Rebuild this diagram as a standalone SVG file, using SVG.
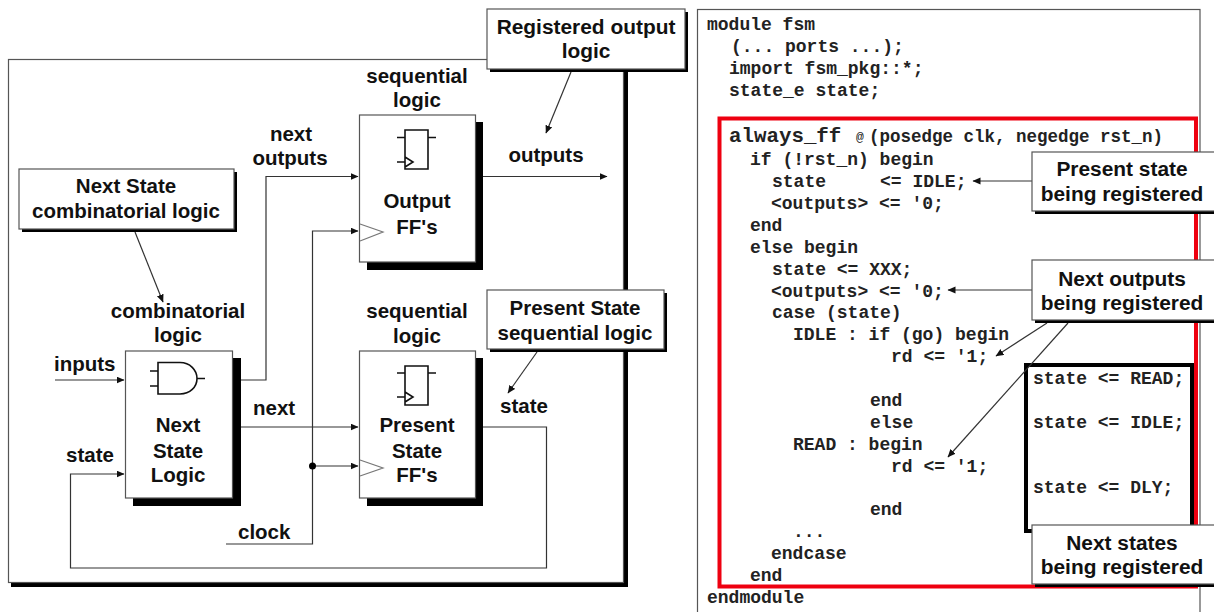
<svg xmlns="http://www.w3.org/2000/svg" width="1214" height="612" viewBox="0 0 1214 612">
<style>
.t{font-family:"Liberation Sans",Arial,sans-serif;font-weight:700;font-size:20.500px;fill:#111;text-anchor:middle}
.l{text-anchor:start}
.r{font-size:20.900px}
.c{font-family:"Liberation Mono","Courier New",monospace;font-weight:700;font-size:18px;fill:#222;white-space:pre}
.box{fill:#fff;stroke:#555;stroke-width:1.2}
.sh{fill:#000}
.a{fill:none;stroke:#333;stroke-width:1.2;marker-end:url(#ah)}
.g{fill:none;stroke:#111;stroke-width:1.6}
.ck{fill:none;stroke:#777;stroke-width:1.2}
</style>
<defs>
<marker id="ah" markerUnits="userSpaceOnUse" markerWidth="9" markerHeight="8" refX="7.5" refY="3.5" orient="auto"><path d="M0 0L8 3.5L0 7Z" fill="#111"/></marker>
</defs>
<rect width="1214" height="612" fill="#fff"/>

<g id="fsm-frame">
<rect class="sh" x="11" y="62" width="617" height="525"/>
<rect class="box" x="8.5" y="59.5" width="615" height="523"/>
</g>

<g id="code-panel">
<rect x="697.5" y="9.5" width="502.500" height="610" fill="#fff" stroke="#555" stroke-width="1.2"/>
<rect x="719.500" y="118.500" width="476.500" height="468" fill="none" stroke="#ee0010" stroke-width="4"/>
<rect x="1026" y="365" width="166" height="166" fill="none" stroke="#000" stroke-width="4"/>
<text class="c" x="707" y="30">module fsm</text>
<text class="c" x="731" y="52">(... ports ...);</text>
<text class="c" x="729" y="74">import fsm_pkg::*;</text>
<text class="c" x="729" y="96">state_e state;</text>
<text class="c" x="729" y="142" style="font-size:20.800px">always_ff</text>
<text class="c" x="856" y="141" style="font-size:13px;font-weight:400">@</text>
<text class="c" x="869" y="142" style="font-size:17.500px">(posedge clk, negedge rst_n)</text>
<text class="c" x="750" y="165">if (!rst_n) begin</text>
<text class="c" x="772" y="187">state     &lt;= IDLE;</text>
<text class="c" x="771" y="209">&lt;outputs&gt; &lt;= '0;</text>
<text class="c" x="750" y="231">end</text>
<text class="c" x="750" y="253">else begin</text>
<text class="c" x="772" y="275">state &lt;= XXX;</text>
<text class="c" x="771" y="297">&lt;outputs&gt; &lt;= '0;</text>
<text class="c" x="772" y="318">case (state)</text>
<text class="c" x="793" y="340">IDLE : if (go) begin</text>
<text class="c" x="891" y="362">rd &lt;= '1;</text>
<text class="c" x="870" y="406">end</text>
<text class="c" x="870" y="428">else</text>
<text class="c" x="793" y="450">READ : begin</text>
<text class="c" x="891" y="472">rd &lt;= '1;</text>
<text class="c" x="870" y="515">end</text>
<text class="c" x="793" y="537">...</text>
<text class="c" x="771" y="559">endcase</text>
<text class="c" x="750" y="581">end</text>
<text class="c" x="707" y="603">endmodule</text>
<text class="c" x="1033" y="384">state &lt;= READ;</text>
<text class="c" x="1033" y="428">state &lt;= IDLE;</text>
<text class="c" x="1033" y="493">state &lt;= DLY;</text>
</g>

<g id="connectors">
<path class="a" d="M241 380H266V176.500H358"/>
<path class="a" d="M226 544H312.500V231H358"/>
<path class="a" d="M312.500 466H358"/>
<path class="a" d="M241 427H358"/>
<path class="a" d="M55 380H124"/>
<path class="a" d="M483 427H546.500V568H70.500V474H124"/>
<path class="a" d="M483 176.500H607"/>
<circle cx="312.500" cy="466" r="3.500" fill="#000"/>
<path class="a" d="M135 232L163 302"/>
<path class="a" d="M571 72L546 133"/>
<path class="a" d="M537 352L508 393"/>
<path class="a" d="M1032 181H973"/>
<path class="a" d="M1032 290H948"/>
<path class="a" d="M1047 323L996 356"/>
<path class="a" d="M1068 323L948 457"/>
</g>

<g id="next-state-logic">
<rect class="sh" x="133" y="358" width="108" height="148"/>
<rect class="box" x="125.500" y="351" width="107" height="147"/>
<path class="g" d="M158 362.500H180C190 362.500 197 370 197 378.500C197 387 190 394 180 394H158ZM150 371H158M150 386H158M197 378.500H205"/>
<text class="t" x="178" y="432">Next</text>
<text class="t" x="178" y="458">State</text>
<text class="t" x="178" y="482">Logic</text>
</g>

<g id="output-ffs">
<rect class="sh" x="367" y="122" width="116" height="148"/>
<rect class="box" x="359.500" y="115" width="116" height="147"/>
<path class="ck" d="M360 224L383 232L360 241"/>
<path class="g" d="M405 130H428V169H405ZM397 137.500H405M428 137.500H436M397 162H405M405 157L413 162L405 167"/>
<text class="t" x="417" y="208">Output</text>
<text class="t" x="417" y="234">FF's</text>
</g>

<g id="present-state-ffs">
<rect class="sh" x="367" y="358" width="116" height="148"/>
<rect class="box" x="359.500" y="351" width="116" height="147"/>
<path class="ck" d="M360 460L383 468L360 476"/>
<path class="g" d="M405 366H428V405H405ZM397 373H405M428 373H436M397 397H405M405 392L413 397L405 402"/>
<text class="t" x="417" y="432">Present</text>
<text class="t" x="417" y="458">State</text>
<text class="t" x="417" y="482">FF's</text>
</g>

<g id="labels">
<text class="t" x="291" y="141">next</text>
<text class="t" x="290" y="165">outputs</text>
<text class="t" x="178" y="318">combinatorial</text>
<text class="t" x="178" y="342">logic</text>
<text class="t l" x="54" y="371">inputs</text>
<text class="t l" x="66" y="462">state</text>
<text class="t l" x="253" y="415">next</text>
<text class="t l" x="238" y="539">clock</text>
<text class="t" x="417" y="83">sequential</text>
<text class="t" x="417" y="107">logic</text>
<text class="t" x="417" y="318">sequential</text>
<text class="t" x="417" y="343">logic</text>
<text class="t" x="546" y="162">outputs</text>
<text class="t" x="524" y="413">state</text>
</g>

<g id="callout-next-state">
<rect class="sh" x="22" y="172" width="215" height="60"/>
<rect class="box" x="19" y="169" width="215" height="60"/>
<text class="t" x="126" y="193">Next State</text>
<text class="t" x="126" y="218">combinatorial logic</text>
</g>
<g id="callout-registered-output">
<rect class="sh" x="490" y="12" width="198" height="60"/>
<rect class="box" x="487" y="9" width="198" height="60"/>
<text class="t r" x="586" y="34">Registered output</text>
<text class="t r" x="586" y="58">logic</text>
</g>
<g id="callout-present-state">
<rect class="sh" x="490" y="293" width="177" height="59"/>
<rect class="box" x="487" y="290" width="177" height="59"/>
<text class="t" x="575" y="315">Present State</text>
<text class="t" x="575" y="340">sequential logic</text>
</g>
<g id="callout-present-being-registered">
<rect class="sh" x="1035" y="155" width="190" height="59"/>
<rect class="box" x="1032" y="152" width="190" height="59"/>
<text class="t r" x="1122" y="176">Present state</text>
<text class="t r" x="1122" y="201">being registered</text>
</g>
<g id="callout-next-outputs">
<rect class="sh" x="1035" y="263" width="190" height="60"/>
<rect class="box" x="1032" y="260" width="190" height="60"/>
<text class="t r" x="1122" y="286">Next outputs</text>
<text class="t r" x="1122" y="310">being registered</text>
</g>
<g id="callout-next-states">
<rect class="sh" x="1035" y="528" width="190" height="59"/>
<rect class="box" x="1032" y="525" width="190" height="59"/>
<text class="t r" x="1122" y="550">Next states</text>
<text class="t r" x="1122" y="574">being registered</text>
</g>
</svg>
